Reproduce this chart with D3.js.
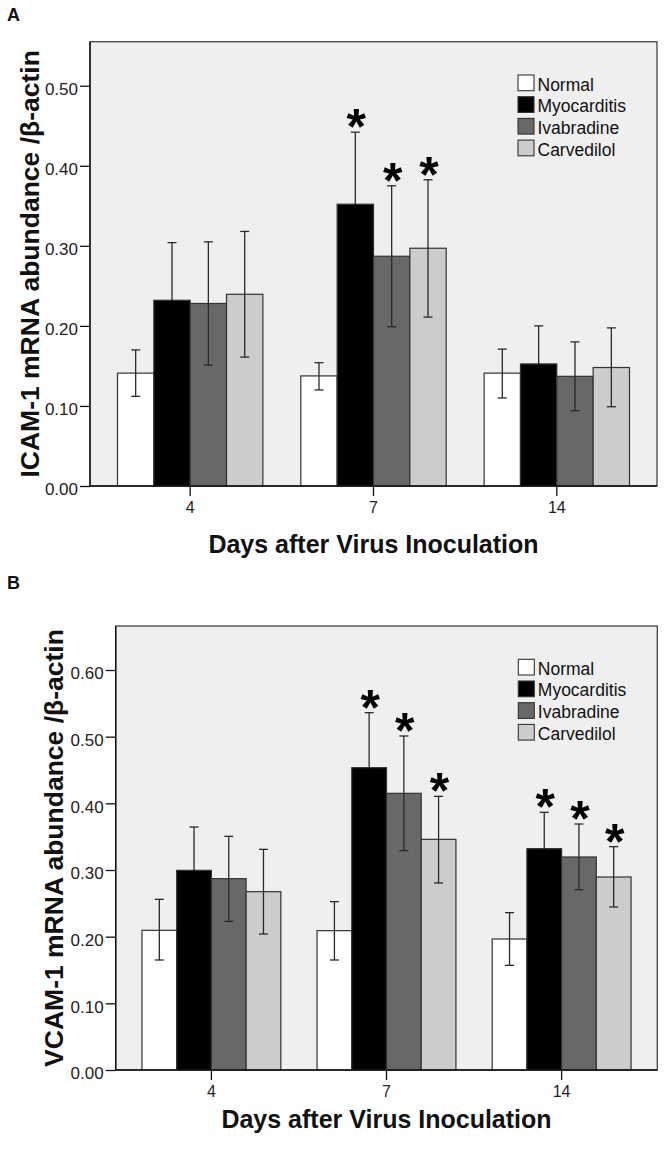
<!DOCTYPE html>
<html><head><meta charset="utf-8">
<script src="https://cdn.jsdelivr.net/npm/d3@7"></script>
<style>html,body{margin:0;padding:0;background:#fff;}</style>
</head><body>
<svg id="c" width="664" height="1149"></svg>
<script>
const days = ["4", "7", "14"];
const groups = ["Normal", "Myocarditis", "Ivabradine", "Carvedilol"];
const groupColors = ["#ffffff", "#000000", "#686868", "#cccccc"];

// ICAM-1 (panel A): rows = groups, columns = days
const icamMeans = [
  [0.141, 0.1375, 0.141],
  [0.232, 0.352, 0.1525],
  [0.228, 0.287, 0.137],
  [0.2395, 0.297, 0.148]
];
const icamUpper = [
  [0.170, 0.154, 0.171],
  [0.304, 0.442, 0.200],
  [0.305, 0.375, 0.180],
  [0.318, 0.3825, 0.1975]
];
const icamLower = [
  [0.112, 0.120, 0.110],
  [0.160, 0.262, 0.105],
  [0.151, 0.199, 0.094],
  [0.161, 0.211, 0.099]
];
const icamStars = [
  [false, false, false],
  [false, true, false],
  [false, true, false],
  [false, true, false]
];
const icamTicks = [0, 0.1, 0.2, 0.3, 0.4, 0.5];

// VCAM-1 (panel B)
const vcamMeans = [
  [0.2095, 0.209, 0.1965],
  [0.2995, 0.4535, 0.332],
  [0.287, 0.415, 0.3195],
  [0.2675, 0.346, 0.2895]
];
const vcamUpper = [
  [0.256, 0.2525, 0.236],
  [0.3645, 0.536, 0.3865],
  [0.3505, 0.501, 0.369],
  [0.331, 0.4105, 0.335]
];
const vcamLower = [
  [0.165, 0.165, 0.157],
  [0.235, 0.371, 0.278],
  [0.223, 0.329, 0.2705],
  [0.204, 0.2805, 0.2445]
];
const vcamStars = [
  [false, false, false],
  [false, true, true],
  [false, true, true],
  [false, true, true]
];
const vcamTicks = [0, 0.1, 0.2, 0.3, 0.4, 0.5, 0.6];

const xTitle = "Days after Virus Inoculation";
const FONT = "'Liberation Sans', Arial, Helvetica, sans-serif";

const svg = d3.select("#c");

function panel(o) {
  const g = svg.append("g");
  const x0 = d3.scaleBand().domain(days).range([o.left, o.right]).paddingInner(0.207).paddingOuter(0.15);
  const x1 = d3.scaleBand().domain(groups).range([0, x0.bandwidth()]);
  const y = d3.scaleLinear().domain([0, o.ymax]).range([o.bottom, o.top]);

  // plot background / frame
  g.append("rect")
    .attr("x", o.left).attr("y", o.top)
    .attr("width", o.right - o.left).attr("height", o.bottom - o.top)
    .attr("fill", "#efefef").attr("stroke", "#444").attr("stroke-width", 1.3);

  const rows = [];
  groups.forEach((grp, gi) => days.forEach((d, di) => rows.push({
    grp, gi, d, m: o.means[gi][di], hi: o.upper[gi][di], lo: o.lower[gi][di], star: o.stars[gi][di]
  })));

  // bars
  g.selectAll("rect.bar").data(rows).join("rect").attr("class", "bar")
    .attr("x", r => x0(r.d) + x1(r.grp))
    .attr("width", x1.bandwidth())
    .attr("y", r => y(r.m))
    .attr("height", r => y(0) - y(r.m))
    .attr("fill", r => groupColors[r.gi])
    .attr("stroke", "#333").attr("stroke-width", 1.2);

  // error bars
  const cx = r => x0(r.d) + x1(r.grp) + x1.bandwidth() / 2;
  const cap = 4.5;
  const eb = g.selectAll("g.eb").data(rows).join("g").attr("class", "eb")
    .attr("stroke", "#2a2a2a").attr("stroke-width", 1.3).attr("fill", "none");
  eb.append("line").attr("x1", cx).attr("x2", cx).attr("y1", r => y(r.hi)).attr("y2", r => y(r.m));
  eb.append("line").attr("x1", cx).attr("x2", cx).attr("y1", r => y(r.m)).attr("y2", r => y(r.lo))
    .attr("stroke", r => r.gi === 1 ? "#000" : null);
  eb.append("line").attr("x1", r => cx(r) - cap).attr("x2", r => cx(r) + cap).attr("y1", r => y(r.hi)).attr("y2", r => y(r.hi));
  eb.append("line").attr("x1", r => cx(r) - cap).attr("x2", r => cx(r) + cap).attr("y1", r => y(r.lo)).attr("y2", r => y(r.lo))
    .attr("stroke", r => r.gi === 1 ? "#000" : null);

  // significance stars
  const sfs = 50;
  g.selectAll("text.star").data(rows.filter(r => r.star)).join("text").attr("class", "star")
    .attr("x", r => cx(r) + 1)
    .attr("y", r => y(r.hi) - 16 + 0.56 * sfs)
    .attr("text-anchor", "middle")
    .attr("font-family", FONT).attr("font-weight", "bold").attr("font-size", sfs)
    .attr("fill", "#000")
    .text("*");

  // axes
  const ya = g.append("g").attr("transform", `translate(${o.left},0)`)
    .call(d3.axisLeft(y).tickValues(o.ticks).tickFormat(d3.format(".2f")).tickSize(10).tickPadding(2));
  const xa = g.append("g").attr("transform", `translate(0,${o.bottom})`)
    .call(d3.axisBottom(x0).tickSize(10).tickPadding(6).tickSizeOuter(0));
  [ya, xa].forEach(a => {
    a.selectAll("path.domain").attr("stroke", "#111").attr("stroke-width", 1.4);
    a.selectAll(".tick line").attr("stroke", "#111").attr("stroke-width", 1.3);
    a.selectAll("text").attr("font-family", FONT).attr("font-size", 17).attr("fill", "#222");
  });
  ya.selectAll("path.domain").attr("d", `M0,${o.top}V${o.bottom}`);
  xa.selectAll("path.domain").attr("d", `M${o.left},0H${o.right}`);
  ya.selectAll(".tick text").attr("dy", "0.52em");
  xa.selectAll(".tick text").attr("font-size", 16);

  // legend
  const lg = g.append("g").attr("transform", `translate(${o.right - 139},${o.top + 33.3})`);
  groups.forEach((grp, i) => {
    lg.append("rect").attr("x", 0).attr("y", i * 21.7).attr("width", 16).attr("height", 15.7)
      .attr("fill", groupColors[i]).attr("stroke", "#333").attr("stroke-width", 1.1);
    lg.append("text").attr("x", 19.5).attr("y", i * 21.7 + 15.5)
      .attr("font-family", FONT).attr("font-size", 17.5).attr("fill", "#111").text(grp);
  });

  // titles
  g.append("text").attr("x", (o.left + o.right) / 2).attr("y", o.xlabY)
    .attr("text-anchor", "middle").attr("font-family", FONT).attr("font-weight", "bold")
    .attr("font-size", 25).attr("fill", "#111").text(xTitle);
  g.append("text").attr("transform", `translate(${o.ylabX},${(o.top + o.bottom) / 2}) rotate(-90)`)
    .attr("text-anchor", "middle").attr("font-family", FONT).attr("font-weight", "bold")
    .attr("font-size", 26.5).attr("fill", "#111").text(o.ylabel);
  g.append("text").attr("x", 7).attr("y", o.letterY)
    .attr("font-family", FONT).attr("font-weight", "bold").attr("font-size", 18).attr("fill", "#111").text(o.letter);
}

panel({
  left: 90, right: 657, top: 41.7, bottom: 486, ymax: 0.555,
  means: icamMeans, upper: icamUpper, lower: icamLower, stars: icamStars, ticks: icamTicks,
  ylabel: "ICAM-1 mRNA abundance /β-actin", ylabX: 39, xlabY: 553, letter: "A", letterY: 20.7
});
panel({
  left: 115.7, right: 657.3, top: 626, bottom: 1070, ymax: 0.666,
  means: vcamMeans, upper: vcamUpper, lower: vcamLower, stars: vcamStars, ticks: vcamTicks,
  ylabel: "VCAM-1 mRNA abundance /β-actin", ylabX: 63, xlabY: 1128, letter: "B", letterY: 589.3
});
</script>
</body></html>
